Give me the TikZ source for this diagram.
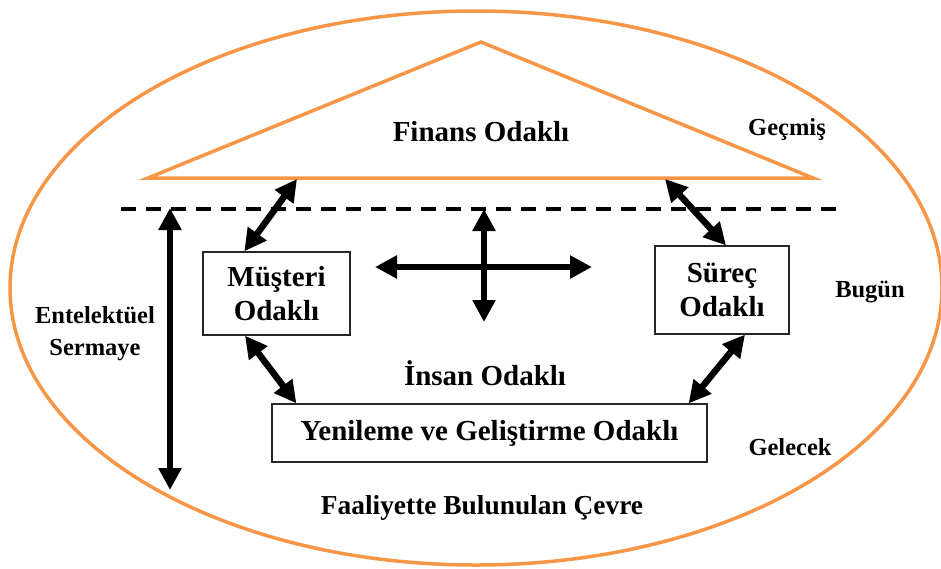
\documentclass[tikz,border=0pt]{standalone}
\usepackage{fontspec}
\setmainfont{Liberation Serif}
\usetikzlibrary{arrows.meta, positioning}
\tikzset{>={Triangle[length=22pt, width=22pt]}}
\definecolor{envorange}{HTML}{F79646}
\tikzset{bigtext/.style={font=\bfseries\fontsize{29}{34}\selectfont, align=center, inner sep=0pt}}
\tikzset{smalltext/.style={font=\bfseries\fontsize{24.5}{32}\selectfont, align=center, inner sep=0pt}}
\tikzset{focusbox/.style={bigtext, draw=black!85, line width=1.3pt}}
\tikzset{bothway/.style={<->, line width=6.5pt}}

\begin{document}
\begin{tikzpicture}[x=1pt, y=-1pt]
                \useasboundingbox (0, 0) rectangle (941, 568);%
                \draw [envorange, line width=3.5pt] (476, 288) ellipse [x radius=466pt, y radius=277pt];%
                \draw [envorange, line width=3.5pt] (148, 178) -- (481, 42) -- (813, 178) -- cycle;%
                \coordinate (baseL) at (297, 179);%
                \coordinate (baseR) at (665, 179);%
                \coordinate (dashL) at (121, 209);%
                \coordinate (dashR) at (838, 209);%
                \coordinate (capTop) at (170, 208);%
                \coordinate (capBot) at (170, 490);%
                \coordinate (crossW) at (375, 267);%
                \coordinate (crossE) at (592, 267);%
                \coordinate (crossN) at (484, 209);%
                \coordinate (crossS) at (484, 322);%
                \draw [line width=4pt, dash pattern=on 15pt off 10pt] (dashL) -- (dashR);%
                \node [bigtext] (finans) at (481, 132) {Finans Odaklı};%
                \node [focusbox, minimum width=147pt, minimum height=83pt] (musteri) at (276.5, 293.5) {Müşteri\\Odaklı};%
                \node [focusbox, minimum width=134pt, minimum height=88pt] (surec) at (722, 290) {Süreç\\Odaklı};%
                \node [focusbox, minimum width=435pt, minimum height=58pt] (yenileme) at (489.5, 433) {Yenileme ve Geliştirme Odaklı};%
                \node [bigtext] (insan) at (485, 373) {İnsan Odaklı};%
                \node [bigtext, font=\bfseries\fontsize{27.4}{32}\selectfont] (cevre) at (482, 508) {Faaliyette Bulunulan Çevre};%
                \node [smalltext] (gecmis) at (787, 130) {Geçmiş};%
                \node [smalltext] (bugun) at (870, 292) {Bugün};%
                \node [smalltext] (gelecek) at (790, 447) {Gelecek};%
                \node [smalltext] (sermaye) at (95, 334) {Entelektüel\\Sermaye};%
                \draw [bothway] (baseL) -- ([xshift=42pt]musteri.north west);%
                \draw [bothway] (baseR) -- ([xshift=4pt]surec.north);%
                \draw [bothway] ([xshift=-31.5pt]musteri.south) -- ([xshift=25pt]yenileme.north west);%
                \draw [bothway] ([xshift=23pt]surec.south) -- ([xshift=-19pt]yenileme.north east);%
                \draw [bothway] (capTop) -- (capBot);%
                \draw [bothway] (crossW) -- (crossE);%
                \draw [bothway] (crossN) -- (crossS);%
              \end{tikzpicture}
\end{document}
